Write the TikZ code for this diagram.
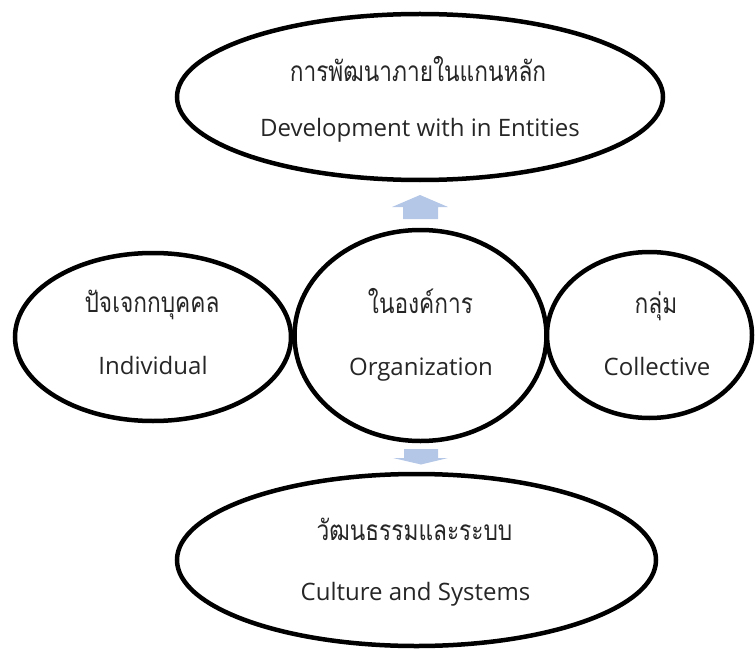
\documentclass[tikz,border=0pt]{standalone}
\usepackage{fontspec}
\setmainfont{Open Sans}
\newfontfamily\thaifont[Script=Thai, FakeStretch=0.81]{Loma}
\usetikzlibrary{shapes.geometric}
\definecolor{arrowblue}{RGB}{180,199,231}
\definecolor{txt}{RGB}{38,38,38}
\tikzset{
  oval/.style={ellipse, draw=black, line width=4.5pt, fill=white, inner sep=0pt},
  eng/.style={anchor=base, inner sep=0pt, text=txt, font=\fontsize{24}{28}\selectfont},
  thai/.style={anchor=base, inner sep=0pt, text=txt, font=\thaifont\fontsize{28}{32}\selectfont},
  blockarrow/.style={fill=arrowblue, draw=none}
}
\begin{document}
\begin{tikzpicture}[x=1pt,y=-1pt]
\useasboundingbox (0,0) rectangle (755,650);
% ellipses
\node[oval, minimum width=486pt, minimum height=166pt] (top) at (420,97) {};
\node[oval, minimum width=276pt, minimum height=168pt] (left) at (153,337) {};
\node[oval, minimum width=205pt, minimum height=166pt] (right) at (649.5,335) {};
\node[oval, minimum width=252pt, minimum height=211pt] (mid) at (420.5,335.5) {};
\node[oval, minimum width=479pt, minimum height=172pt] (bottom) at (416.5,560) {};
% block arrows
\fill[blockarrow] (392,207) -- (420,195) -- (448,207) -- (438,207) -- (438,219) -- (403,219) -- (403,207) -- cycle;
\fill[blockarrow] (404,449) -- (438,449) -- (438,458) -- (448,458) -- (421,464.5) -- (393,458) -- (404,458) -- cycle;
% texts
\node[thai] (topth) at (418,82) {การพัฒนาภายในแกนหลัก};
\node[eng] (topen) at (420,137) {Development with in Entities};
\node[thai] (leftth) at (152,312) {ปัจเจกกบุคคล};
\node[eng] (leften) at (153,374) {Individual};
\node[thai] (midth) at (420.5,313) {ในองค์การ};
\node[eng] (miden) at (421,375) {Organization};
\node[thai] (rightth) at (656,313) {กลุ่ม};
\node[eng] (righten) at (657,375) {Collective};
\node[thai] (botth) at (414.5,540) {วัฒนธรรมและระบบ};
\node[eng] (boten) at (415.5,600) {Culture and Systems};
\end{tikzpicture}
\end{document}
